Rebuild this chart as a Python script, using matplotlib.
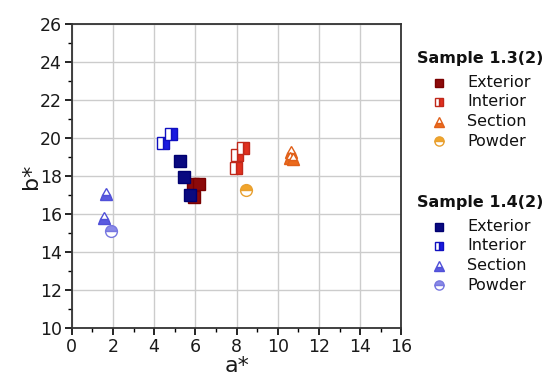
import matplotlib
matplotlib.use("Agg")
import matplotlib.pyplot as plt
from matplotlib.lines import Line2D

plt.rcParams['font.family'] = ['DejaVu Sans']

# Sample 1.3(2)
s13_ext_a = [5.88, 6.2, 5.95]
s13_ext_b = [17.6, 17.6, 16.88]
s13_int_a = [8.3, 8.02, 7.95]
s13_int_b = [19.5, 19.1, 18.4]
s13_sec_a = [10.66, 10.58, 10.75]
s13_sec_b = [19.25, 18.95, 18.9]
s13_pow_a = [8.44]
s13_pow_b = [17.25]

# Sample 1.4(2)
s14_ext_a = [5.24, 5.45, 5.75]
s14_ext_b = [18.8, 17.95, 16.98]
s14_int_a = [4.81, 4.41]
s14_int_b = [20.2, 19.72]
s14_sec_a = [1.65, 1.55]
s14_sec_b = [17.05, 15.78]
s14_pow_a = [1.92]
s14_pow_b = [15.1]

xticks = [0, 2, 4, 6, 8, 10, 12, 14, 16]
yticks = [10, 12, 14, 16, 18, 20, 22, 24, 26]

labels = ['Exterior', 'Interior', 'Section', 'Powder']
titles = ['Sample 1.3(2)', 'Sample 1.4(2)']

W, H = 547, 381
fig = plt.figure(figsize=(W / 100, H / 100), dpi=100)
ax = fig.add_axes([0.131, 0.139, 0.603, 0.798])

styles13 = [
    dict(marker='s', color='#8c0a0a', mec='#7a0000', fillstyle='full', ms=8),
    dict(marker='s', color='#e0301e', mec='#c0281a', fillstyle='right', mfcalt='white', ms=8),
    dict(marker='^', color='#ec6a1c', mec='#e0601a', fillstyle='bottom', mfcalt='white', ms=9),
    dict(marker='o', color='#f2a52a', mec='#e8a030', fillstyle='top', mfcalt='white', ms=8.5),
]
styles14 = [
    dict(marker='s', color='#0a0a80', mec='#000070', fillstyle='full', ms=8),
    dict(marker='s', color='#1a1ae0', mec='#1010c0', fillstyle='right', mfcalt='white', ms=8),
    dict(marker='^', color='#5a5ae0', mec='#5050d8', fillstyle='bottom', mfcalt='white', ms=9),
    dict(marker='o', color='#8a8ae8', mec='#7878e0', fillstyle='top', mfcalt='white', ms=8.5),
]

data13 = [(s13_ext_a, s13_ext_b), (s13_int_a, s13_int_b), (s13_sec_a, s13_sec_b), (s13_pow_a, s13_pow_b)]
data14 = [(s14_ext_a, s14_ext_b), (s14_int_a, s14_int_b), (s14_sec_a, s14_sec_b), (s14_pow_a, s14_pow_b)]

for (xa, yb), st in zip(data13, styles13):
    ax.plot(xa, yb, ls='none', mew=1.0, zorder=3, **st)
for (xa, yb), st in zip(data14, styles14):
    ax.plot(xa, yb, ls='none', mew=1.0, zorder=3, **st)

ax.set_xlim(0, 16)
ax.set_ylim(10, 26)
ax.set_xticks(xticks)
ax.set_yticks(yticks)
ax.set_xticks([1, 3, 5, 7, 9, 11, 13, 15], minor=True)
ax.set_yticks([11, 13, 15, 17, 19, 21, 23, 25], minor=True)
ax.tick_params(which='major', direction='out', length=5, width=1.2, labelsize=12.5, pad=2,
               labelcolor='#1a1a1a')
ax.tick_params(which='minor', direction='out', length=3, width=1.0)
ax.grid(True, which='major', color='#cccccc', lw=1.0)
ax.set_axisbelow(True)
for sp in ax.spines.values():
    sp.set_linewidth(1.3)
    sp.set_color('#333333')
ax.set_xlabel('a*', fontsize=16, labelpad=0, color='#1a1a1a')
ax.set_ylabel('b*', fontsize=16, labelpad=-1, color='#1a1a1a')

# manual legends (pixel layout -> figure fraction)
def fx(px):
    return px / W

def fy(py):
    return 1 - py / H

first_gap, row = 23.5, 19.5
groups = [(titles[0], styles13, 59), (titles[1], styles14, 203)]
for title, styles, ty in groups:
    fig.text(fx(417), fy(ty), title, fontsize=11.5, fontweight='bold',
             ha='left', va='center', color='#111111')
    for i, (st, lab) in enumerate(zip(styles, labels)):
        ry = ty + first_gap + row * i
        s = dict(st)
        s['ms'] = st['ms'] * 0.78
        fig.add_artist(Line2D([fx(439)], [fy(ry)], transform=fig.transFigure,
                              ls='none', mew=1.0, **s))
        fig.text(fx(467), fy(ry), lab, fontsize=11.5, ha='left', va='center',
                 color='#111111')

fig.savefig('out.png', dpi=100)
